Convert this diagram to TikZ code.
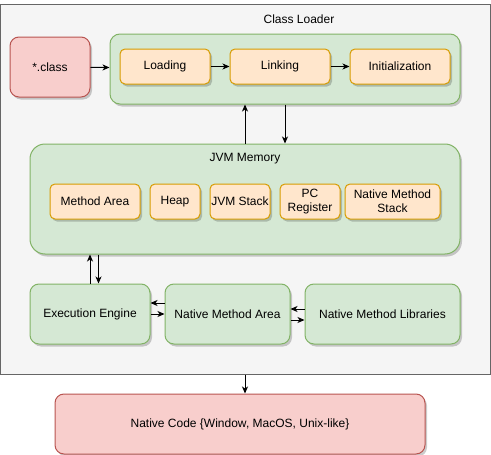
\documentclass[tikz,border=0pt]{standalone}
\usepackage{fontspec}
\setmainfont{Liberation Sans}
\usetikzlibrary{arrows.meta,shapes,positioning,calc,shadows}
\definecolor{greyfill}{HTML}{F5F5F5}
\definecolor{greyline}{HTML}{666666}
\definecolor{greenfill}{HTML}{D5E8D4}
\definecolor{greenline}{HTML}{82B366}
\definecolor{orangefill}{HTML}{FFE6CC}
\definecolor{orangeline}{HTML}{D79B00}
\definecolor{redfill}{HTML}{F8CECC}
\definecolor{redline}{HTML}{B85450}

\begin{document}
\begin{tikzpicture}[x=1pt, y=-1pt, line width=1pt,
    font=\fontsize{12}{14}\selectfont,
    blk/.style={rectangle, inner sep=0pt, align=center,
        drop shadow={shadow xshift=2pt, shadow yshift=-2.5pt, opacity=0.2, fill=black}},
    greenbox/.style={blk, draw=greenline, fill=greenfill},
    orangebox/.style={blk, draw=orangeline, fill=orangefill, rounded corners=5pt,
        minimum height=35},
    redbox/.style={blk, draw=redline, fill=redfill},
    arr/.style={-{Stealth[length=7pt, width=6pt, inset=2pt]}, black}]
    \useasboundingbox (0,0) rectangle (491,455);

    % outer frame
    \node[draw=greyline, fill=greyfill, minimum width=490, minimum height=370, inner sep=0pt] (outer) at (245,189) {};
    \node (loadertitle) at (299,19) {Class Loader};

    % class loader
    \node[redbox, rounded corners=9pt, minimum width=80, minimum height=60] (cls) at (50,67) {*.class};
    \node[greenbox, rounded corners=10pt, minimum width=350, minimum height=70] (loader) at (285,69) {};
    \node[orangebox, minimum width=90] (loading) at (165,66.5) {Loading};
    \node[orangebox, minimum width=100] (linking) at (280,66.5) {Linking};
    \node[orangebox, minimum width=100] (init) at (400,66.5) {Initialization};

    % jvm memory
    \node[greenbox, rounded corners=15pt, minimum width=430, minimum height=110] (jvm) at (245,199) {};
    \node (jvmtitle) at (245,159) {JVM Memory};
    \node[orangebox, minimum width=90] (method) at (95,201.5) {Method Area};
    \node[orangebox, minimum width=50] (heap) at (175,201.5) {Heap};
    \node[orangebox, minimum width=60] (stack) at (240,201.5) {JVM Stack};
    \node[orangebox, minimum width=60] (pc) at (310,201.5) {PC\\Register};
    \node[orangebox, minimum width=95] (nstack) at (392.5,201.5) {Native Method\\Stack};

    % bottom row
    \node[greenbox, rounded corners=9pt, minimum width=120, minimum height=60] (exec) at (90,314) {Execution Engine};
    \node[greenbox, rounded corners=9pt, minimum width=125, minimum height=60] (nma) at (227.5,314) {Native Method Area};
    \node[greenbox, rounded corners=9pt, minimum width=155, minimum height=60] (nml) at (382.5,314) {Native Method Libraries};

    \node[redbox, rounded corners=9pt, minimum width=370, minimum height=60] (native) at (240,424) {Native Code \{Window, MacOS, Unix-like\}};

    % connectors
    \draw[arr] (cls) -- (loader);
    \draw[arr] (loading) -- (linking);
    \draw[arr] (linking) -- (init);
    \draw[arr] (jvm.north) -- (jvm.north |- loader.south);
    \draw[arr] (loader.south) -- (loader.south |- jvm.north);
    \draw[arr] (exec.north) -- (exec.north |- jvm.south);
    \draw[arr] ([xshift=8.5pt]exec.north |- jvm.south) -- ([xshift=8.5pt]exec.north);
    \draw[arr] ([yshift=11pt]nma.west) -- ([yshift=11pt]nma.west -| exec.east);
    \draw[arr] (exec.east) -- (nma.west);
    \draw[arr] ([yshift=5pt]nml.west) -- ([yshift=5pt]nml.west -| nma.east);
    \draw[arr] ([yshift=-6pt]nma.east) -- ([yshift=-6pt]nma.east -| nml.west);
    \draw[arr] (outer.south) -- (outer.south |- native.north);
\end{tikzpicture}
\end{document}
